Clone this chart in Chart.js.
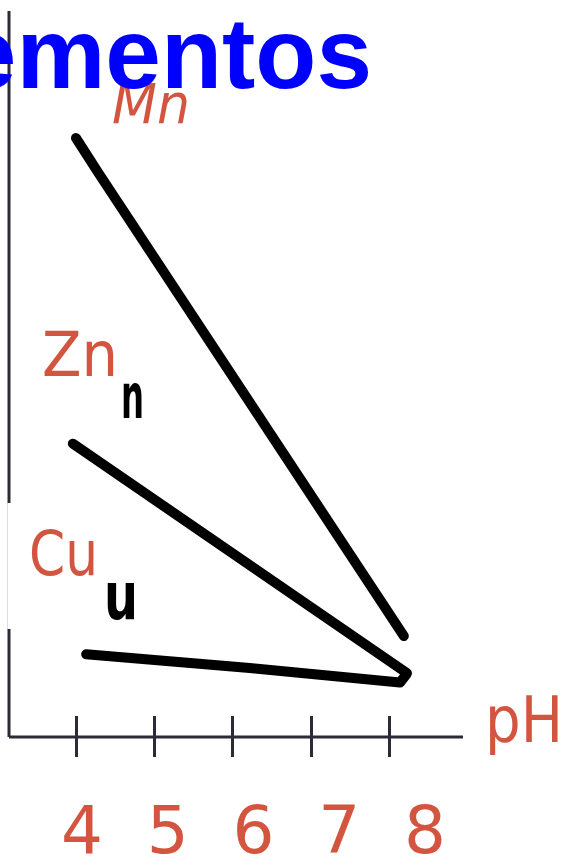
<!DOCTYPE html>
<html>
<head>
<meta charset="utf-8">
<script src="https://cdn.jsdelivr.net/npm/chart.js@4"></script>
<style>
  html, body { margin: 0; padding: 0; background: #fff; overflow: hidden; }
  canvas { display: block; }
</style>
</head>
<body>
<canvas id="phChart" width="566" height="857"></canvas>
<script>
// pH axis ticks and their labels
var phTicks = [4, 5, 6, 7, 8];
var tickLabels = ['4', '5', '6', '7', '8'];

// hand drawn availability curves (pH, relative level 0-100)
var mnPH = [4.0, 4.28, 8.19];
var mnLevel = [82.5, 77.8, 13.9];
var znPH = [3.96, 8.23];
var znLevel = [40.4, 8.8];
var cuPH = [4.13, 6.22, 8.14, 8.22];
var cuLevel = [11.4, 9.5, 7.5, 8.6];

var red = '#d4553f';
var axisColor = '#2b2b36';
var hand = '"Comic Sans MS", "DejaVu Sans", sans-serif';

function points(xs, ys) {
    return xs.map(function (x, i) { return { x: x, y: ys[i] }; });
}

function lineSet(label, xs, ys) {
    return {
        label: label,
        data: points(xs, ys),
        borderColor: '#000',
        borderWidth: 10,
        borderCapStyle: 'round',
        borderJoinStyle: 'round',
        pointRadius: 0,
        tension: 0,
        fill: false
    };
}

// text squeezed to a given width
function fitText(ctx, text, x, y, font, color, width) {
    ctx.save();
    ctx.font = font;
    ctx.fillStyle = color;
    ctx.textAlign = 'left';
    ctx.textBaseline = 'alphabetic';
    var w = ctx.measureText(text).width;
    ctx.translate(x, y);
    ctx.scale(width / w, 1);
    ctx.fillText(text, 0, 0);
    ctx.restore();
}

var axesPlugin = {
    id: 'handAxes',
    beforeDatasetsDraw: function (chart) {
        var ctx = chart.ctx;
        var x = chart.scales.x;
        var left = chart.chartArea.left, right = chart.chartArea.right;
        var top = chart.chartArea.top, bottom = chart.chartArea.bottom;
        ctx.save();
        // vertical axis, faded in the middle
        ctx.strokeStyle = axisColor;
        ctx.lineWidth = 3;
        ctx.beginPath();
        ctx.moveTo(left, top);
        ctx.lineTo(left, 503);
        ctx.moveTo(left, 629);
        ctx.lineTo(left, bottom);
        ctx.stroke();
        ctx.strokeStyle = '#dcdcdc';
        ctx.lineWidth = 1;
        ctx.beginPath();
        ctx.moveTo(left - 1.5, 503);
        ctx.lineTo(left - 1.5, 629);
        ctx.stroke();
        // pH axis
        ctx.strokeStyle = axisColor;
        ctx.lineWidth = 3;
        ctx.beginPath();
        ctx.moveTo(left, bottom);
        ctx.lineTo(right, bottom);
        ctx.stroke();
        ctx.beginPath();
        phTicks.forEach(function (v) {
            var px = Math.round(x.getPixelForValue(v)) + 0.5;
            ctx.moveTo(px, bottom - 21);
            ctx.lineTo(px, bottom + 20);
        });
        ctx.stroke();
        ctx.restore();
    },
    afterDatasetsDraw: function (chart) {
        var ctx = chart.ctx;
        var xl = chart.scales.xl;
        ctx.save();
        // tick labels
        ctx.font = '66px ' + hand;
        ctx.fillStyle = red;
        ctx.textAlign = 'center';
        ctx.textBaseline = 'alphabetic';
        phTicks.forEach(function (v, i) {
            ctx.fillText(tickLabels[i], xl.getPixelForValue(v), 853);
        });
        ctx.restore();

        fitText(ctx, 'pH', 485, 742, '64px ' + hand, red, 78);
        fitText(ctx, 'Mn', 112, 123, 'italic 56px ' + hand, red, 78);
        fitText(ctx, 'Zn', 42, 376, '62px ' + hand, red, 76);
        fitText(ctx, 'Cu', 29, 575, '62px ' + hand, red, 69);

        // stray marker strokes next to the labels
        fitText(ctx, 'n', 121, 418, 'bold 62px "DejaVu Sans", sans-serif', '#000', 23);
        fitText(ctx, 'u', 104, 619, 'bold 66px "DejaVu Sans", sans-serif', '#000', 34);

        // heading fragment
        ctx.save();
        ctx.font = 'bold 100px "Liberation Sans", Arial, sans-serif';
        ctx.fillStyle = '#0000ff';
        ctx.textAlign = 'right';
        ctx.textBaseline = 'alphabetic';
        ctx.fillText('ementos', 372, 88);
        ctx.restore();
    }
};

var ctx = document.getElementById('phChart').getContext('2d');
var phChart = new Chart(ctx, {
    type: 'line',
    data: {
        datasets: [
            lineSet('Mn', mnPH, mnLevel),
            lineSet('Zn', znPH, znLevel),
            lineSet('Cu', cuPH, cuLevel)
        ]
    },
    options: {
        responsive: false,
        animation: false,
        devicePixelRatio: 1,
        layout: { padding: { left: 9, right: 103, top: 11, bottom: 120 } },
        plugins: { legend: { display: false }, tooltip: { enabled: false } },
        scales: {
            x: { type: 'linear', min: 3.144, max: 8.946, display: false },
            xl: { type: 'linear', axis: 'x', min: 3.149, max: 8.443, display: false },
            y: { type: 'linear', min: 0, max: 100, display: false }
        }
    },
    plugins: [axesPlugin]
});
</script>
</body>
</html>
